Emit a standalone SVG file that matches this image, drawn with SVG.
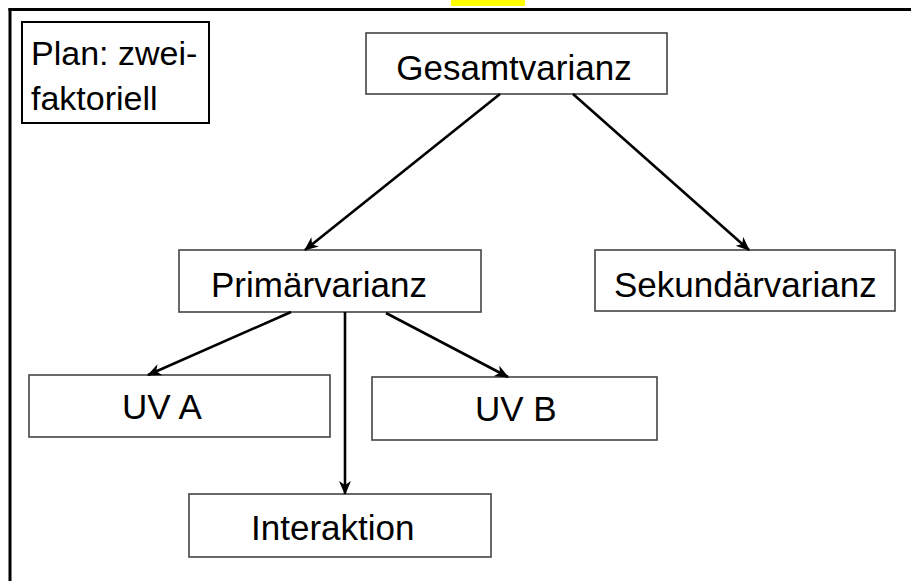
<svg xmlns="http://www.w3.org/2000/svg" width="911" height="581" viewBox="0 0 911 581">
<defs>
<style>
.node rect{fill:#fff;stroke:#444;stroke-width:1.6}
.lbl{font-family:"Liberation Sans",Arial,Helvetica,sans-serif;font-size:35px;fill:#000}
.conn line{stroke:#000;stroke-width:2.6;fill:none}
</style>
<marker id="ah" viewBox="0 0 14 12" refX="13" refY="6" markerWidth="14" markerHeight="12" markerUnits="userSpaceOnUse" orient="auto">
<path d="M0,0 L14,6 L0,12 L4,6 Z" fill="#000"/>
</marker>
</defs>
<rect x="0" y="0" width="911" height="581" fill="#fff"/>
<rect x="451" y="0" width="74" height="6" fill="#ffff00"/>
<g id="frame">
<line x1="8.5" y1="9.5" x2="911" y2="9.5" stroke="#000" stroke-width="3"/>
<line x1="10" y1="8" x2="10" y2="581" stroke="#000" stroke-width="3"/>
</g>
<g id="plan">
<rect x="22" y="22" width="187" height="101" fill="#fff" stroke="#000" stroke-width="2"/>
<text class="lbl" x="31" y="65" style="font-size:34px">Plan: zwei-</text>
<text class="lbl" x="31" y="110" style="font-size:34px">faktoriell</text>
</g>
<g id="gesamt" class="node">
<rect x="366" y="33" width="301" height="61"/>
<text class="lbl" x="514" y="80" text-anchor="middle">Gesamtvarianz</text>
</g>
<g id="primaer" class="node">
<rect x="179" y="250" width="302" height="62"/>
<text class="lbl" x="211" y="297">Primärvarianz</text>
</g>
<g id="sekundaer" class="node">
<rect x="595" y="250" width="300" height="61"/>
<text class="lbl" x="614" y="297">Sekundärvarianz</text>
</g>
<g id="uva" class="node">
<rect x="29" y="375" width="301" height="62"/>
<text class="lbl" x="122" y="419">UV A</text>
</g>
<g id="uvb" class="node">
<rect x="372" y="377" width="285" height="63"/>
<text class="lbl" x="475" y="421">UV B</text>
</g>
<g id="interaktion" class="node">
<rect x="189" y="494" width="302" height="63"/>
<text class="lbl" x="251" y="540">Interaktion</text>
</g>
<g id="connectors" class="conn">
<line x1="500" y1="94" x2="305" y2="250" marker-end="url(#ah)"/>
<line x1="573" y1="94" x2="749" y2="250" marker-end="url(#ah)"/>
<line x1="291" y1="312" x2="148" y2="375" marker-end="url(#ah)"/>
<line x1="386" y1="313" x2="508" y2="377" marker-end="url(#ah)"/>
<line x1="345" y1="312" x2="345" y2="494" marker-end="url(#ah)"/>
</g>
</svg>
